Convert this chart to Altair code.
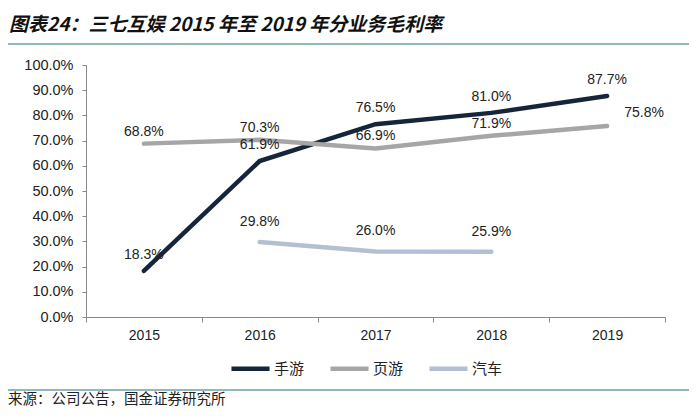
import altair as alt
import pandas as pd

# ---- data ----
years = ["2015", "2016", "2017", "2018", "2019"]
series_names = ["手游", "页游", "汽车"]
mobile = [18.3, 61.9, 76.5, 81.0, 87.7]
web = [68.8, 70.3, 66.9, 71.9, 75.8]
auto = [None, 29.8, 26.0, 25.9, None]
y_ticks = [0, 10, 20, 30, 40, 50, 60, 70, 80, 90, 100]
title_text = "图表24：三七互娱 2015 年至 2019 年分业务毛利率"
source_text = "来源：公司公告，国金证券研究所"

colors = ["#15263b", "#a6a6a6", "#b4c0d2"]

rows = []
for name, vals in zip(series_names, [mobile, web, auto]):
    for y, v in zip(years, vals):
        if v is not None:
            rows.append({"year": y, "series": name, "value": v / 100.0})
df = pd.DataFrame(rows)

W, H = 579, 252
CJK = "Noto Sans CJK SC"
LAT = "Liberation Sans"

x_enc = alt.X("year:N", bandPosition=0.5,
              scale=alt.Scale(type="band", domain=years, paddingInner=0, paddingOuter=0),
              axis=alt.Axis(title=None, labelAngle=0, labelFontSize=14, labelFont=LAT,
                            labelColor="#222222", domainColor="#888888", tickColor="#888888",
                            tickSize=5, tickBand="extent", labelPadding=6))
y_enc = alt.Y("value:Q",
              scale=alt.Scale(domain=[0, 1], nice=False, zero=True),
              axis=alt.Axis(title=None, values=[t / 100 for t in y_ticks], format=".1%",
                            labelFontSize=14.5, labelFont=LAT, labelColor="#222222",
                            domainColor="#888888", tickColor="#888888", tickSize=4,
                            grid=False, labelPadding=9))

base = alt.Chart(df)

lines = base.mark_line(strokeWidth=4.5, strokeCap="round").encode(
    x=x_enc, y=y_enc,
    color=alt.Color("series:N",
                    scale=alt.Scale(domain=series_names, range=colors),
                    sort=series_names,
                    legend=alt.Legend(title=None, orient="none", legendX=143, legendY=282,
                                      direction="horizontal", symbolType="stroke",
                                      symbolSize=1450, symbolStrokeWidth=4.5,
                                      labelFontSize=15, labelFont=CJK, labelColor="#222222",
                                      columnPadding=16, labelOffset=2)),
    detail="series:N",
)

txt_kw = dict(fontSize=14, font=LAT, color="#222222")
lab_mobile = base.transform_filter(alt.datum.series == "手游").mark_text(dy=-16, **txt_kw).encode(
    x=x_enc, y=y_enc, text=alt.Text("value:Q", format=".1%"))
lab_web = base.transform_filter((alt.datum.series == "页游") & (alt.datum.year != "2019")).mark_text(
    dy=-12, **txt_kw).encode(x=x_enc, y=y_enc, text=alt.Text("value:Q", format=".1%"))
lab_web_last = base.transform_filter((alt.datum.series == "页游") & (alt.datum.year == "2019")).mark_text(
    dx=37, dy=-13, **txt_kw).encode(x=x_enc, y=y_enc, text=alt.Text("value:Q", format=".1%"))
lab_auto = base.transform_filter(alt.datum.series == "汽车").mark_text(dy=-20, **txt_kw).encode(
    x=x_enc, y=y_enc, text=alt.Text("value:Q", format=".1%"))

one = pd.DataFrame({"t": [title_text]})
src = pd.DataFrame({"t": [source_text]})

title = alt.Chart(one).mark_text(align="left", baseline="middle", fontSize=19, fontWeight="bold",
                                 fontStyle="italic", font=CJK, color="#111111").encode(
    text="t:N", x=alt.value(-77), y=alt.value(-40))
source = alt.Chart(src).mark_text(align="left", baseline="middle", fontSize=14.5, font=CJK,
                                  color="#222222").encode(
    text="t:N", x=alt.value(-78), y=alt.value(335))

rule_color = "#6f9fa8"
rule1 = alt.Chart(one).mark_rule(color=rule_color, strokeWidth=1.5).encode(
    x=alt.value(-78), x2=alt.value(606), y=alt.value(-58))
rule2 = alt.Chart(one).mark_rule(color=rule_color, strokeWidth=1.5).encode(
    x=alt.value(-78), x2=alt.value(606), y=alt.value(-21))
rule3 = alt.Chart(one).mark_rule(color=rule_color, strokeWidth=1.5).encode(
    x=alt.value(-78), x2=alt.value(606), y=alt.value(325))

chart = alt.layer(
    rule1, rule2, rule3, title, source,
    lines, lab_mobile, lab_web, lab_web_last, lab_auto
).properties(
    width=W, height=H,
    autosize=alt.AutoSizeParams(type="none"),
    padding={"left": 78, "top": 57, "right": 24, "bottom": 93},
    background="white",
).configure_view(stroke=None)

chart.save("out.html", embed_options={"renderer": "svg", "actions": False})
